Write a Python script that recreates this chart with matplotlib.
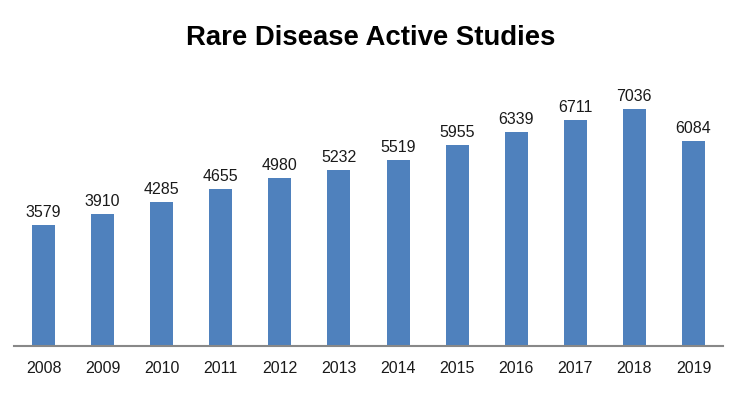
import matplotlib.pyplot as plt

years = ['2008', '2009', '2010', '2011', '2012', '2013',
         '2014', '2015', '2016', '2017', '2018', '2019']
studies = [3579, 3910, 4285, 4655, 4980, 5232, 5519, 5955, 6339, 6711, 7036, 6084]

plt.rcParams['font.family'] = ['Liberation Sans', 'DejaVu Sans']

fig = plt.figure(figsize=(7.42, 3.94), dpi=100)
ax = fig.add_axes([14 / 742, 1 - 346 / 394, 709 / 742, 290 / 394])

x = range(len(years))
bars = ax.bar(x, studies, width=0.39, color='#4F81BD')
for b, v in zip(bars, studies):
    ax.text(b.get_x() + b.get_width() / 2, v + 150, str(v),
            ha='center', va='bottom', fontsize=11.5, color='#1a1a1a')

ax.set_xlim(-0.5, 11.5)
ax.set_ylim(0, 290 / 0.0337)
ax.set_xticks(list(x))
ax.set_xticklabels(years, fontsize=11.5, color='#1a1a1a')
ax.tick_params(axis='x', length=0, pad=11)
ax.set_yticks([])
for s in ['top', 'right', 'left']:
    ax.spines[s].set_visible(False)
ax.spines['bottom'].set_color('#888888')
ax.spines['bottom'].set_linewidth(1.5)

fig.text(0.5, 1 - 38 / 394, 'Rare Disease Active Studies', ha='center', va='center',
         fontsize=19.8, fontweight='bold', color='black')

fig.savefig('out.png', dpi=100)
